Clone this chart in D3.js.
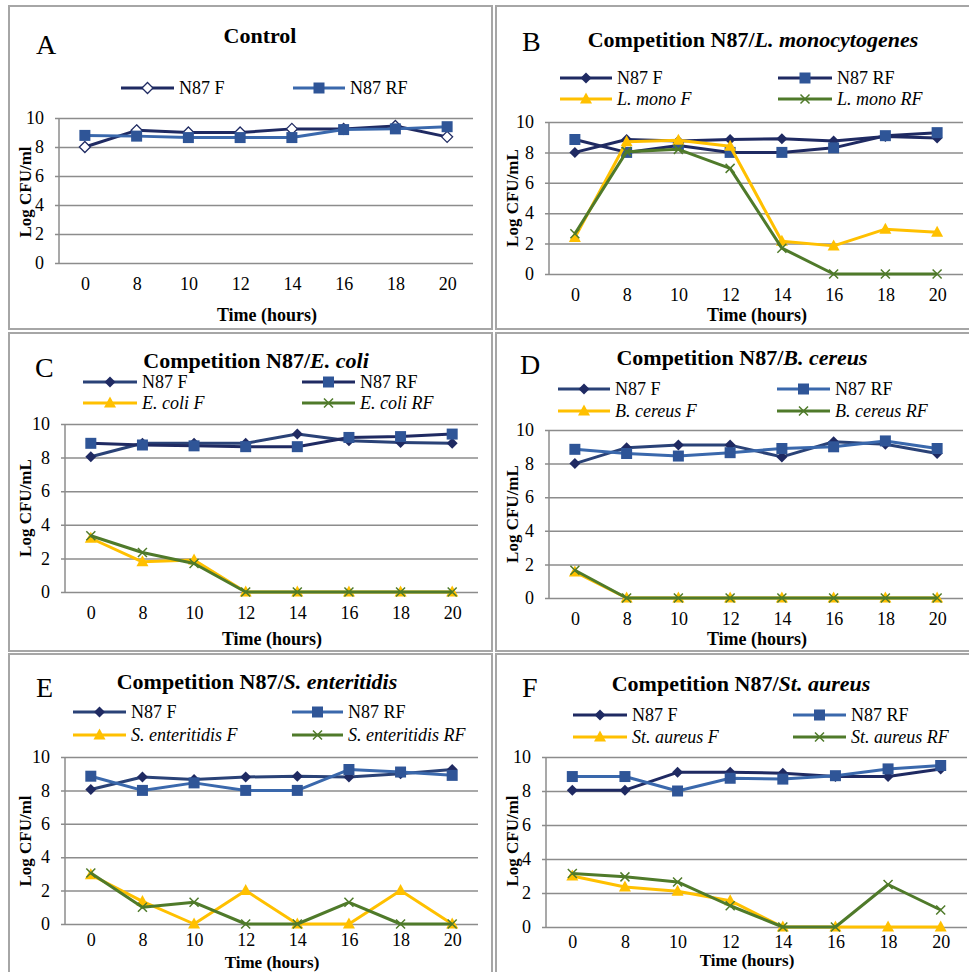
<!DOCTYPE html>
<html><head><meta charset="utf-8">
<script src="https://cdn.jsdelivr.net/npm/d3@7"></script>
<style>
html,body{margin:0;padding:0;background:#fff;}
svg, svg text{font-family:"Liberation Serif","Times New Roman",serif;}
</style></head>
<body>
<svg id="chart" width="969" height="972"></svg>
<script>
// ---------- DATA ----------
const hours = ["0","8","10","12","14","16","18","20"];
const yTicks = [0,2,4,6,8,10];

const A_N87F  = [8.0, 9.15, 9.0, 9.0, 9.25, 9.25, 9.45, 8.7];
const A_N87RF = [8.8, 8.75, 8.65, 8.65, 8.65, 9.2, 9.25, 9.4];

const B_N87F  = [8.0, 8.85, 8.75, 8.85, 8.9, 8.75, 9.05, 8.95];
const B_N87RF = [8.85, 8.0, 8.45, 8.0, 8.0, 8.3, 9.1, 9.3];
const B_monoF = [2.4, 8.7, 8.8, 8.4, 2.15, 1.85, 2.95, 2.75];
const B_monoRF= [2.65, 8.05, 8.2, 6.95, 1.7, 0, 0, 0];

const C_N87F  = [8.05, 8.85, 8.85, 8.85, 9.4, 9.0, 8.9, 8.85];
const C_N87RF = [8.85, 8.75, 8.7, 8.65, 8.65, 9.2, 9.25, 9.4];
const C_coliF = [3.2, 1.8, 1.9, 0, 0, 0, 0, 0];
const C_coliRF= [3.35, 2.35, 1.7, 0, 0, 0, 0, 0];

const D_N87F  = [8.0, 8.95, 9.1, 9.1, 8.4, 9.3, 9.15, 8.6];
const D_N87RF = [8.85, 8.6, 8.45, 8.65, 8.9, 9.0, 9.35, 8.9];
const D_cerF  = [1.55, 0, 0, 0, 0, 0, 0, 0];
const D_cerRF = [1.65, 0, 0, 0, 0, 0, 0, 0];

const E_N87F  = [8.05, 8.8, 8.65, 8.8, 8.85, 8.8, 9.0, 9.25];
const E_N87RF = [8.85, 8.0, 8.45, 8.0, 8.0, 9.25, 9.1, 8.9];
const E_entF  = [2.95, 1.35, 0, 2.0, 0, 0, 2.0, 0];
const E_entRF = [3.05, 1.0, 1.3, 0, 0, 1.3, 0, 0];

const F_N87F  = [8.05, 8.05, 9.1, 9.1, 9.05, 8.85, 8.85, 9.3];
const F_N87RF = [8.85, 8.85, 8.0, 8.75, 8.7, 8.9, 9.3, 9.5];
const F_aurF  = [3.0, 2.35, 2.1, 1.55, 0, 0, 0, 0];
const F_aurRF = [3.15, 2.95, 2.65, 1.25, 0, 0, 2.5, 1.0];

// ---------- STYLE ----------
const FONT = "'Liberation Serif', 'Times New Roman', serif";
const NAVY = "#1f2a62", NAVY2 = "#2a4277", BLUE = "#3a68ac", SQ = "#2f5597",
      YEL = "#ffc000", GRN = "#4f7a2a", GRID = "#8c8c8c";

const svg = d3.select("#chart").attr("font-family", FONT);

// panel frames
const frames = [
  [9,6,483,323],[496,6,480,323],
  [9,333,483,318],[496,333,480,318],
  [9,654,483,330],[496,654,480,330]
];
svg.selectAll("rect.frame").data(frames).join("rect")
  .attr("x",d=>d[0]).attr("y",d=>d[1]).attr("width",d=>d[2]).attr("height",d=>d[3])
  .attr("fill","none").attr("stroke","#a6a6a6").attr("stroke-width",2);

function markerPath(type){
  if(type==="diamond") return "M0,-5.5L5.5,0L0,5.5L-5.5,0Z";
  if(type==="square") return "M-5.5,-5.5H5.5V5.5H-5.5Z";
  if(type==="triangle") return "M0,-6.5L6,4.5H-6Z";
  if(type==="x") return "M-4.5,-4.5L4.5,4.5M-4.5,4.5L4.5,-4.5";
}
function drawMarker(g, type, color, hollow){
  const p = g.append("path").attr("d", markerPath(type));
  if(type==="x") p.attr("fill","none").attr("stroke",color).attr("stroke-width",1.5);
  else if(hollow) p.attr("fill","#fff").attr("stroke",color).attr("stroke-width",1.3);
  else p.attr("fill",color).attr("stroke","none");
}

function panel(cfg){
  const g = svg.append("g").attr("font-family", FONT);
  const w = cfg.right - cfg.left;
  const x = d3.scalePoint().domain(hours).range([cfg.left, cfg.right]).padding(0.5);
  const y = d3.scaleLinear().domain([0,10]).range([cfg.bottom, cfg.top]);

  // y axis with gridlines
  const ya = g.append("g").attr("transform",`translate(${cfg.left-4},0)`)
    .call(d3.axisLeft(y).tickValues(yTicks).tickSizeInner(-(w+4)).tickSizeOuter(0).tickPadding(11));
  ya.attr("font-family", FONT);
  ya.select(".domain").remove();
  ya.selectAll(".tick line").attr("stroke",GRID).attr("stroke-width",1.5);
  ya.selectAll(".tick text").attr("font-size",18).attr("fill","#000").attr("font-family",FONT);
  g.append("line").attr("x1",cfg.left).attr("x2",cfg.left).attr("y1",cfg.top).attr("y2",cfg.bottom)
    .attr("stroke",GRID).attr("stroke-width",1.5);

  // x axis labels
  const xa = g.append("g").attr("transform",`translate(0,${cfg.bottom})`)
    .call(d3.axisBottom(x).tickSize(0).tickPadding(cfg.xpad || 14));
  xa.attr("font-family", FONT);
  xa.select(".domain").remove();
  xa.selectAll(".tick text").attr("font-size",18).attr("fill","#000").attr("font-family",FONT);

  // lines + markers
  const line = d3.line().x((d,i)=>x(hours[i])).y(d=>y(d));
  cfg.series.forEach(s=>{
    g.append("path").datum(s.values).attr("d",line).attr("fill","none")
      .attr("stroke",s.line).attr("stroke-width",3).attr("stroke-linejoin","round");
    s.values.forEach((v,i)=>{
      const mg = g.append("g").attr("transform",`translate(${x(hours[i])},${y(v)})`);
      drawMarker(mg, s.marker, s.mcolor, s.hollow);
    });
  });

  // legend
  cfg.series.forEach((s,i)=>{
    const col = cfg.legend.cols[i%2], rowY = cfg.legend.rows[Math.floor(i/2)];
    g.append("line").attr("x1",col[0]).attr("x2",col[1]).attr("y1",rowY).attr("y2",rowY)
      .attr("stroke",s.line).attr("stroke-width",3);
    const mg = g.append("g").attr("transform",`translate(${(col[0]+col[1])/2},${rowY})`);
    drawMarker(mg, s.marker, s.mcolor, s.hollow);
    g.append("text").attr("x",col[1]+5).attr("y",rowY+6).attr("font-size",18)
      .attr("font-style", s.italic ? "italic" : "normal").text(s.name);
  });

  // title
  const t = g.append("text").attr("x",cfg.titleX).attr("y",cfg.titleY).attr("text-anchor","middle")
    .attr("font-size",22).attr("font-weight","bold");
  t.append("tspan").text(cfg.title[0]);
  if(cfg.title[1]) t.append("tspan").attr("font-style","italic").text(cfg.title[1]);

  // panel letter
  g.append("text").attr("x",cfg.letterX).attr("y",cfg.letterY).attr("font-size",28).text(cfg.letter);

  // axis titles
  g.append("text").attr("x",cfg.timeX).attr("y",cfg.timeY).attr("text-anchor","middle")
    .attr("font-size",cfg.timeSize || 18).attr("font-weight","bold").text("Time (hours)");
  g.append("text").attr("transform",`translate(${cfg.ylabX},${cfg.ylabY}) rotate(-90)`)
    .attr("text-anchor","middle").attr("font-size",17).attr("font-weight","bold").text(cfg.ylab);
}

panel({left:59,right:473,top:118,bottom:263, title:["Control"], titleX:260,titleY:43,
  letter:"A",letterX:36,letterY:54, timeX:267,timeY:321, ylab:"Log CFU/ml", ylabX:31,ylabY:192,
  legend:{rows:[88],cols:[[121,174],[293,345]]},
  series:[
    {name:"N87 F",values:A_N87F,line:NAVY,marker:"diamond",mcolor:NAVY,hollow:true},
    {name:"N87 RF",values:A_N87RF,line:BLUE,marker:"square",mcolor:SQ}
  ]});

panel({left:549,right:963,top:122,bottom:274, title:["Competition N87/","L. monocytogenes"], titleX:753,titleY:47,
  letter:"B",letterX:522,letterY:51, timeX:757,timeY:321, ylab:"Log CFU/mL", ylabX:518,ylabY:198,
  legend:{rows:[78,99],cols:[[560,612],[778,832]]},
  series:[
    {name:"N87 F",values:B_N87F,line:NAVY,marker:"diamond",mcolor:NAVY},
    {name:"N87 RF",values:B_N87RF,line:NAVY,marker:"square",mcolor:SQ},
    {name:"L. mono F",values:B_monoF,line:YEL,marker:"triangle",mcolor:YEL,italic:true},
    {name:"L. mono RF",values:B_monoRF,line:GRN,marker:"x",mcolor:GRN,italic:true}
  ]});

panel({left:65,right:478,top:424,bottom:592, title:["Competition N87/","E. coli"], titleX:256,titleY:368,
  letter:"C",letterX:35,letterY:377, timeX:272,timeY:645, ylab:"Log CFU/mL", ylabX:31,ylabY:508,
  legend:{rows:[382,403],cols:[[83,137],[302,355]]},
  series:[
    {name:"N87 F",values:C_N87F,line:NAVY2,marker:"diamond",mcolor:NAVY},
    {name:"N87 RF",values:C_N87RF,line:NAVY,marker:"square",mcolor:SQ},
    {name:"E. coli F",values:C_coliF,line:YEL,marker:"triangle",mcolor:YEL,italic:true},
    {name:"E. coli RF",values:C_coliRF,line:GRN,marker:"x",mcolor:GRN,italic:true}
  ]});

panel({left:549,right:963,top:430,bottom:598, title:["Competition N87/","B. cereus"], titleX:742,titleY:365,
  letter:"D",letterX:520,letterY:374, timeX:757,timeY:645, ylab:"Log CFU/mL", ylabX:518,ylabY:514,
  legend:{rows:[389,411],cols:[[558,610],[777,830]]},
  series:[
    {name:"N87 F",values:D_N87F,line:NAVY2,marker:"diamond",mcolor:NAVY},
    {name:"N87 RF",values:D_N87RF,line:BLUE,marker:"square",mcolor:SQ},
    {name:"B. cereus F",values:D_cerF,line:YEL,marker:"triangle",mcolor:YEL,italic:true},
    {name:"B. cereus RF",values:D_cerRF,line:GRN,marker:"x",mcolor:GRN,italic:true}
  ]});

panel({left:65,right:478,top:757,bottom:924, title:["Competition N87/","S. enteritidis"], titleX:257,titleY:689,
  letter:"E",letterX:36,letterY:697, timeX:272,timeY:968, timeSize:17, xpad:9, ylab:"Log CFU/ml", ylabX:31,ylabY:841,
  legend:{rows:[712,735],cols:[[73,126],[292,343]]},
  series:[
    {name:"N87 F",values:E_N87F,line:NAVY2,marker:"diamond",mcolor:NAVY},
    {name:"N87 RF",values:E_N87RF,line:BLUE,marker:"square",mcolor:SQ},
    {name:"S. enteritidis F",values:E_entF,line:YEL,marker:"triangle",mcolor:YEL,italic:true},
    {name:"S. enteritidis RF",values:E_entRF,line:GRN,marker:"x",mcolor:GRN,italic:true}
  ]});

panel({left:546,right:967,top:757,bottom:927, title:["Competition N87/","St. aureus"], titleX:741,titleY:691,
  letter:"F",letterX:522,letterY:697, timeX:747,timeY:966, timeSize:17, xpad:8, ylab:"Log CFU/ml", ylabX:518,ylabY:841,
  legend:{rows:[715,737],cols:[[573,627],[793,846]]},
  series:[
    {name:"N87 F",values:F_N87F,line:NAVY,marker:"diamond",mcolor:NAVY},
    {name:"N87 RF",values:F_N87RF,line:BLUE,marker:"square",mcolor:SQ},
    {name:"St. aureus F",values:F_aurF,line:YEL,marker:"triangle",mcolor:YEL,italic:true},
    {name:"St. aureus RF",values:F_aurRF,line:GRN,marker:"x",mcolor:GRN,italic:true}
  ]});
</script>
</body></html>
